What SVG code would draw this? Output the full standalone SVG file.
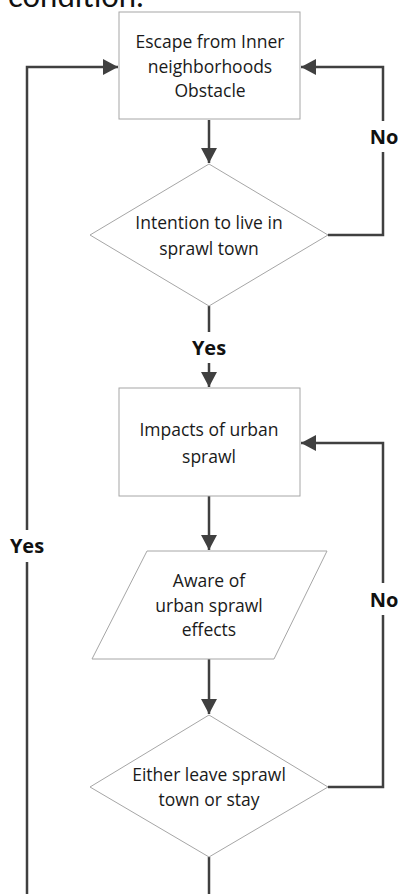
<svg xmlns="http://www.w3.org/2000/svg" width="398" height="894" viewBox="0 0 398 894">
<defs>
<marker id="ah" markerUnits="userSpaceOnUse" markerWidth="16" markerHeight="16" refX="15" refY="8" orient="auto">
<path d="M0,0 L15,8 L0,16 Z" fill="#404040"/>
</marker>
<style>
.shape{fill:#fff;stroke:#a6a6a6;stroke-width:1}
.t{font-family:"Open Sans","Liberation Sans",sans-serif;font-size:17.5px;fill:#1a1a1a;text-anchor:middle}
.lbl{font-family:"Open Sans","Liberation Sans",sans-serif;font-size:20px;font-weight:bold;fill:#111;text-anchor:middle}
.c{fill:none;stroke:#404040;stroke-width:2.5}
</style>
</defs>
<rect width="398" height="894" fill="#fff"/>
<text x="8" y="7" style="font-family:'Lato','Liberation Sans',sans-serif;font-size:31px;fill:#111">condition.</text>

<g id="connectors">
<path class="c" d="M209,120 V163" marker-end="url(#ah)"/>
<path class="c" d="M209,306 V332"/>
<path class="c" d="M209,363 V387" marker-end="url(#ah)"/>
<path class="c" d="M209,496 V550" marker-end="url(#ah)"/>
<path class="c" d="M209,659 V714" marker-end="url(#ah)"/>
<path class="c" d="M209,857 V894"/>
<path class="c" d="M328,235 H383 V152"/>
<path class="c" d="M383,121 V67 H301" marker-end="url(#ah)"/>
<path class="c" d="M328,787 H383 V615"/>
<path class="c" d="M383,583 V443 H301" marker-end="url(#ah)"/>
<path class="c" d="M27,894 V562"/>
<path class="c" d="M27,530 V67 H118" marker-end="url(#ah)"/>
</g>

<g id="label-no1"><text class="lbl" x="384" y="144">No</text></g>
<g id="label-yes1"><text class="lbl" x="209" y="355">Yes</text></g>
<g id="label-no2"><text class="lbl" x="384" y="607">No</text></g>
<g id="label-yes2"><text class="lbl" x="27" y="553">Yes</text></g>

<g id="n1">
<rect class="shape" x="119" y="12" width="181" height="107"/>
<text class="t" x="210" y="48">Escape from Inner</text>
<text class="t" x="210" y="73">neighborhoods</text>
<text class="t" x="210" y="97">Obstacle</text>
</g>
<g id="n2">
<path class="shape" d="M209,164 L328,235 L209,306 L90,235 Z"/>
<text class="t" x="209" y="229">Intention to live in</text>
<text class="t" x="209" y="255">sprawl town</text>
</g>
<g id="n3">
<rect class="shape" x="119" y="388" width="181" height="108"/>
<text class="t" x="209" y="436">Impacts of urban</text>
<text class="t" x="209" y="463">sprawl</text>
</g>
<g id="n4">
<path class="shape" d="M147,551 L327,551 L274,659 L92,659 Z"/>
<text class="t" x="209" y="587">Aware of</text>
<text class="t" x="209" y="612">urban sprawl</text>
<text class="t" x="209" y="636">effects</text>
</g>
<g id="n5">
<path class="shape" d="M209,715 L328,787 L209,857 L90,787 Z"/>
<text class="t" x="209" y="781">Either leave sprawl</text>
<text class="t" x="209" y="806">town or stay</text>
</g>
</svg>
